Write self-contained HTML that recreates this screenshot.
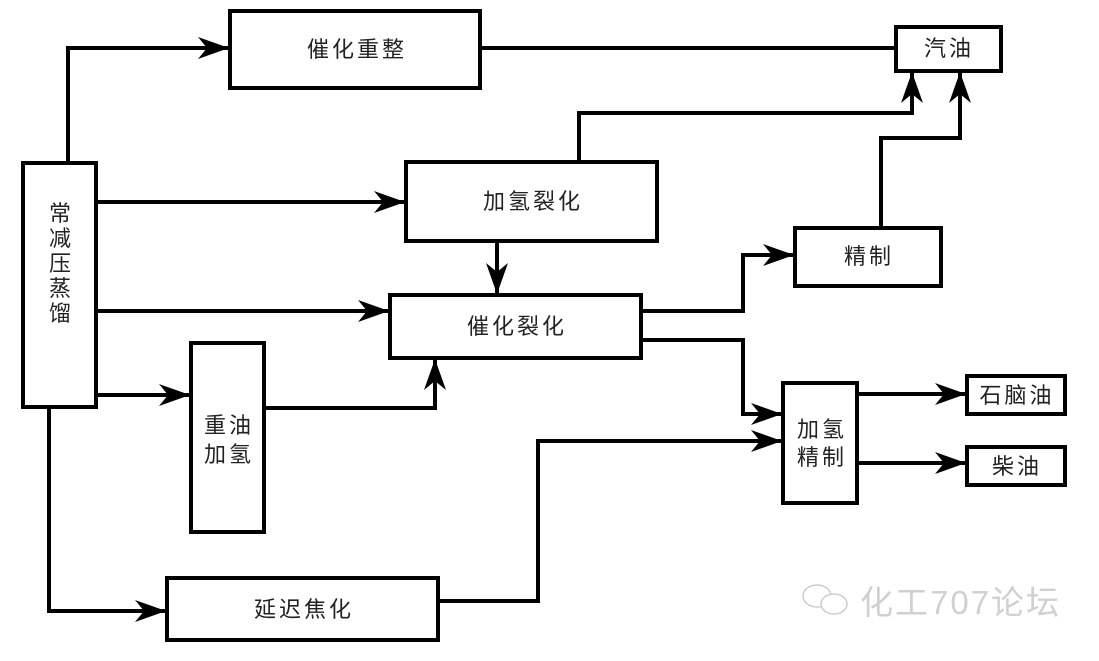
<!DOCTYPE html>
<html><head><meta charset="utf-8"><style>
html,body{margin:0;padding:0;background:#fff;}
svg text{font-family:"Liberation Sans","Noto Sans CJK SC",sans-serif;fill:#222;}
</style></head><body>
<svg width="1099" height="656" viewBox="0 0 1099 656" xmlns="http://www.w3.org/2000/svg">
<defs>
<marker id="a" markerUnits="userSpaceOnUse" markerWidth="34" markerHeight="24" refX="30" refY="12" orient="auto">
<path d="M0,1 L31,12 L0,23 L9,12 z" fill="#000"/>
</marker>
</defs>
<g fill="#fff" stroke="#000" stroke-width="4">
<rect x="230" y="11" width="250" height="77"/>
<rect x="896" y="27" width="105" height="44"/>
<rect x="23" y="163" width="73" height="244"/>
<rect x="406" y="162" width="251" height="79"/>
<rect x="795" y="228" width="146" height="58"/>
<rect x="390" y="295" width="251" height="63"/>
<rect x="191" y="343" width="73" height="189"/>
<rect x="783" y="383" width="74" height="120"/>
<rect x="967" y="376" width="98" height="38"/>
<rect x="967" y="447" width="98" height="38"/>
<rect x="167" y="578" width="271" height="62"/>
</g>
<g fill="none" stroke="#000" stroke-width="4">
<path d="M68,161 V48 H228" marker-end="url(#a)"/>
<path d="M480,48 H896"/>
<path d="M579,160 V113 H912 V73" marker-end="url(#a)"/>
<path d="M881,226 V138 H960 V73" marker-end="url(#a)"/>
<path d="M96,202 H404" marker-end="url(#a)"/>
<path d="M497,241 V293" marker-end="url(#a)"/>
<path d="M96,311 H388" marker-end="url(#a)"/>
<path d="M96,395 H189" marker-end="url(#a)"/>
<path d="M264,408 H435 V360" marker-end="url(#a)"/>
<path d="M49,407 V611 H165" marker-end="url(#a)"/>
<path d="M438,601 H538 V441 H781" marker-end="url(#a)"/>
<path d="M641,311 H743 V255 H793" marker-end="url(#a)"/>
<path d="M641,340 H743 V414 H781" marker-end="url(#a)"/>
<path d="M857,394 H965" marker-end="url(#a)"/>
<path d="M857,463 H965" marker-end="url(#a)"/>
</g>
<g font-size="22" text-anchor="middle" letter-spacing="3">
<text x="357" y="57">催化重整</text>
<text x="949" y="56">汽油</text>
<text x="533" y="209">加氢裂化</text>
<text x="869" y="264">精制</text>
<text x="517" y="334">催化裂化</text>
<text x="1017" y="403">石脑油</text>
<text x="1017" y="474">柴油</text>
<text x="304" y="617">延迟焦化</text>
<text x="229" y="433">重油</text>
<text x="229" y="462">加氢</text>
<text x="822" y="437">加氢</text>
<text x="822" y="465">精制</text>
</g>
<g font-size="22" text-anchor="middle">
<text x="60" y="221">常</text>
<text x="60" y="246">减</text>
<text x="60" y="271">压</text>
<text x="60" y="296">蒸</text>
<text x="60" y="321">馏</text>
</g>
<g fill="none" stroke="#ccc" stroke-width="1.5">
<ellipse cx="817" cy="596" rx="14" ry="11"/>
<ellipse cx="834" cy="604" rx="13" ry="10" fill="#fff"/>
</g>
<text x="860" y="614" font-size="33" letter-spacing="2" style="fill:#d0d0d0">化工707论坛</text>
</svg>
</body></html>
